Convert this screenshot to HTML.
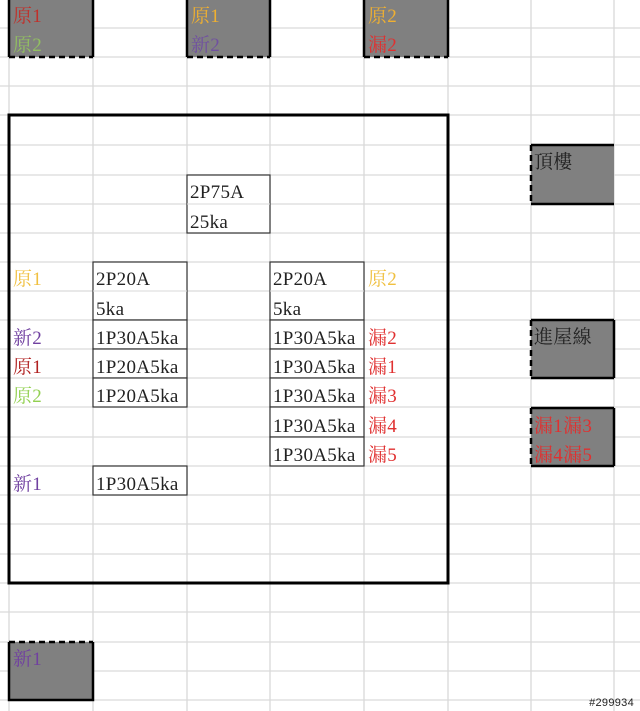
<!DOCTYPE html>
<html><head><meta charset="utf-8"><style>
html,body{margin:0;padding:0;background:#fff;}
svg{display:block;}
text{font-family:"Liberation Serif","Noto Serif CJK SC",serif;font-size:19px;letter-spacing:0.3px;}
</style></head><body>
<svg width="640" height="711" viewBox="0 0 640 711" xmlns="http://www.w3.org/2000/svg">
<g stroke="#d9d9d9" stroke-width="1.3">
<line x1="9" y1="0" x2="9" y2="711"/><line x1="93" y1="0" x2="93" y2="711"/>
<line x1="187" y1="0" x2="187" y2="711"/><line x1="270" y1="0" x2="270" y2="711"/>
<line x1="364" y1="0" x2="364" y2="711"/><line x1="448" y1="0" x2="448" y2="711"/>
<line x1="531" y1="0" x2="531" y2="711"/><line x1="614" y1="0" x2="614" y2="711"/>
<line x1="0" y1="28" x2="640" y2="28"/><line x1="0" y1="57" x2="640" y2="57"/>
<line x1="0" y1="86" x2="640" y2="86"/><line x1="0" y1="115" x2="640" y2="115"/>
<line x1="0" y1="145" x2="640" y2="145"/><line x1="0" y1="175" x2="640" y2="175"/>
<line x1="0" y1="204" x2="640" y2="204"/><line x1="0" y1="233" x2="640" y2="233"/>
<line x1="0" y1="262" x2="640" y2="262"/><line x1="0" y1="291" x2="640" y2="291"/>
<line x1="0" y1="320" x2="640" y2="320"/><line x1="0" y1="349" x2="640" y2="349"/>
<line x1="0" y1="378" x2="640" y2="378"/><line x1="0" y1="407" x2="640" y2="407"/>
<line x1="0" y1="437" x2="640" y2="437"/><line x1="0" y1="466" x2="640" y2="466"/>
<line x1="0" y1="495" x2="640" y2="495"/><line x1="0" y1="524" x2="640" y2="524"/>
<line x1="0" y1="554" x2="640" y2="554"/><line x1="0" y1="583" x2="640" y2="583"/>
<line x1="0" y1="612" x2="640" y2="612"/><line x1="0" y1="642" x2="640" y2="642"/>
<line x1="0" y1="671" x2="640" y2="671"/><line x1="0" y1="700" x2="640" y2="700"/>
</g>
<g fill="#808080">
<rect x="9" y="0" width="84" height="57"/><rect x="187" y="0" width="83" height="57"/><rect x="364" y="0" width="84" height="57"/>
<rect x="531" y="145" width="83" height="59"/><rect x="531" y="320" width="83" height="58"/>
<rect x="531" y="408" width="83" height="58"/><rect x="9" y="642" width="84" height="58"/>
</g>
<g stroke="#000" stroke-width="2.5" fill="none">
<path d="M9 0V57M93 0V57M187 0V57M270 0V57M364 0V57M448 0V57"/>
<path d="M9 57H93M187 57H270M364 57H448" stroke-dasharray="6 4"/>
<path d="M531 145H614M531 204H614"/><path d="M531 145V204" stroke-dasharray="6 4"/>
<path d="M531 320H614M531 378H614M614 320V378"/><path d="M531 320V378" stroke-dasharray="6 4"/>
<path d="M531 408H614M531 466H614M614 408V466"/><path d="M531 408V466" stroke-dasharray="6 4"/>
<path d="M9 642V700H93V642"/><path d="M9 642H93" stroke-dasharray="6 4"/>
<rect x="9" y="115" width="439" height="468" stroke-width="3"/>
</g>
<g stroke="#333" stroke-width="1.2" fill="#fff">
<rect x="187" y="175" width="83" height="58"/>
<rect x="93" y="262" width="94" height="58"/><rect x="93" y="320" width="94" height="29"/>
<rect x="93" y="349" width="94" height="29"/><rect x="93" y="378" width="94" height="29"/>
<rect x="93" y="466" width="94" height="29"/>
<rect x="270" y="262" width="94" height="58"/><rect x="270" y="320" width="94" height="29"/>
<rect x="270" y="349" width="94" height="29"/><rect x="270" y="378" width="94" height="29"/>
<rect x="270" y="407" width="94" height="30"/><rect x="270" y="437" width="94" height="29"/>
</g>
<line x1="187" y1="204" x2="270" y2="204" stroke="#d9d9d9"/>
<line x1="93" y1="291" x2="187" y2="291" stroke="#d9d9d9"/>
<line x1="270" y1="291" x2="364" y2="291" stroke="#d9d9d9"/>
<g fill="#222">
<text x="190" y="198">2P75A</text><text x="190" y="228">25ka</text>
<text x="96" y="285">2P20A</text><text x="96" y="315">5ka</text>
<text x="96" y="344">1P30A5ka</text><text x="96" y="373">1P20A5ka</text><text x="96" y="402">1P20A5ka</text>
<text x="96" y="490">1P30A5ka</text>
<text x="273" y="285">2P20A</text><text x="273" y="315">5ka</text>
<text x="273" y="344">1P30A5ka</text><text x="273" y="373">1P30A5ka</text><text x="273" y="402">1P30A5ka</text>
<text x="273" y="432">1P30A5ka</text><text x="273" y="461">1P30A5ka</text>
<text x="534" y="168">頂樓</text><text x="534" y="343">進屋線</text>
</g>
<text x="13" y="22" fill="#c0302a">原1</text><text x="13" y="51" fill="#92c060">原2</text>
<text x="191" y="22" fill="#f0b030">原1</text><text x="191" y="51" fill="#7050a0">新2</text>
<text x="368" y="22" fill="#f0b030">原2</text><text x="368" y="51" fill="#e03030">漏2</text>
<text x="13" y="285" fill="#f0c040">原1</text><text x="13" y="344" fill="#7040a0">新2</text>
<text x="13" y="373" fill="#b02020">原1</text><text x="13" y="402" fill="#92d050">原2</text>
<text x="13" y="490" fill="#7040a0">新1</text>
<text x="368" y="285" fill="#f0c040">原2</text>
<text x="368" y="344" fill="#e03030">漏2</text><text x="368" y="373" fill="#e03030">漏1</text>
<text x="368" y="402" fill="#e03030">漏3</text><text x="368" y="432" fill="#e03030">漏4</text>
<text x="368" y="461" fill="#e03030">漏5</text>
<text x="534" y="432" fill="#e03030">漏1漏3</text><text x="534" y="461" fill="#e03030">漏4漏5</text>
<text x="13" y="665" fill="#7040a0">新1</text>
<text x="634" y="706" text-anchor="end" style="font-family:'Liberation Sans',sans-serif;font-size:11px" fill="#222">#299934</text>
</svg>
</body></html>
